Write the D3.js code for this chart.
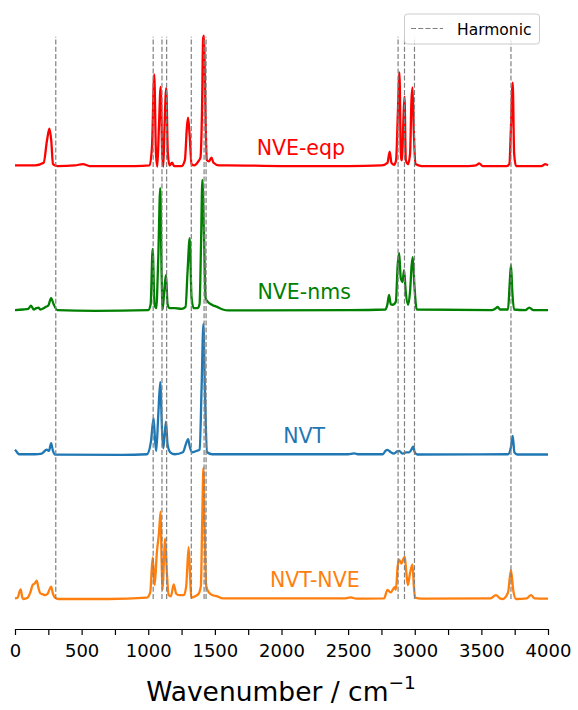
<!DOCTYPE html>
<html>
<head>
<meta charset="utf-8">
<script src="https://cdn.jsdelivr.net/npm/d3@7"></script>
<style>
  body { margin: 0; background: #fff; }
  svg { display: block; font-family: "DejaVu Sans", sans-serif; }
</style>
</head>
<body>
<div id="chart"></div>
<script>
// Spectra: [wavenumber, normalised intensity]
const nveEqp = [
  [0,0.01],[150,0.01],[215,0.03],[240,0.2],[258,0.29],[272,0.2],[285,0.02],[320,0.005],[450,0.01],[510,0.02],[560,0.005],
  [900,0.005],[1010,0.01],[1028,0.15],[1045,0.705],[1058,0.1],[1068,0.0],[1080,0.3],[1093,0.61],[1105,0.1],[1113,0.0],
  [1122,0.3],[1135,0.6],[1147,0.1],[1160,0.01],[1178,0.03],[1195,0.005],[1250,0.005],[1275,0.05],[1290,0.3],[1299,0.374],
  [1310,0.25],[1325,0.02],[1345,0.01],[1375,0.04],[1392,0.07],[1403,0.4],[1412,0.98],[1419,1.0],[1426,0.6],[1440,0.05],
  [1455,0.04],[1474,0.07],[1490,0.03],[1530,0.01],[1600,0.01],[2000,0.005],[2500,0.005],[2750,0.01],[2795,0.03],
  [2812,0.115],[2825,0.03],[2845,0.015],[2860,0.05],[2873,0.4],[2885,0.72],[2897,0.05],[2905,0.05],[2913,0.3],
  [2923,0.534],[2933,0.05],[2950,0.02],[2965,0.1],[2975,0.5],[2983,0.606],[2992,0.3],[3005,0.02],[3050,0.005],
  [3400,0.005],[3460,0.01],[3484,0.025],[3510,0.005],[3690,0.005],[3710,0.02],[3722,0.3],[3735,0.641],[3746,0.1],
  [3760,0.005],[3950,0.005],[3980,0.02],[4000,0.01]
];
const nveNms = [
  [0,0.005],[60,0.01],[100,0.015],[120,0.04],[140,0.01],[160,0.02],[175,0.025],[190,0.01],[215,0.02],[231,0.03],
  [250,0.04],[271,0.097],[290,0.05],[318,0.005],[600,0.0],[1000,0.005],[1018,0.05],[1033,0.473],[1047,0.05],[1060,0.02],
  [1075,0.4],[1090,0.937],[1100,0.3],[1108,0.01],[1120,0.15],[1133,0.275],[1145,0.05],[1160,0.02],[1200,0.02],
  [1250,0.015],[1280,0.03],[1295,0.3],[1311,0.555],[1325,0.1],[1341,0.02],[1370,0.02],[1385,0.05],[1396,0.5],
  [1406,1.0],[1418,0.6],[1430,0.1],[1450,0.065],[1480,0.045],[1517,0.03],[1560,0.01],[1600,0.003],[2500,0.005],
  [2780,0.01],[2795,0.05],[2807,0.122],[2820,0.05],[2835,0.046],[2858,0.07],[2872,0.35],[2883,0.44],[2895,0.25],
  [2908,0.22],[2920,0.31],[2932,0.15],[2950,0.045],[2965,0.15],[2977,0.35],[2985,0.41],[2997,0.2],[3015,0.01],
  [3580,0.005],[3610,0.02],[3622,0.03],[3640,0.01],[3700,0.01],[3712,0.2],[3722,0.35],[3732,0.15],[3745,0.01],
  [3830,0.005],[3860,0.025],[3890,0.005],[4000,0.005]
];
const nvt = [
  [0,0.04],[15,0.02],[30,0.005],[150,0.005],[200,0.01],[238,0.04],[255,0.03],[271,0.09],[285,0.03],[301,0.002],
  [800,0.0],[990,0.005],[1020,0.1],[1040,0.28],[1052,0.1],[1060,0.03],[1075,0.3],[1090,0.555],[1103,0.2],[1113,0.05],
  [1123,0.15],[1133,0.254],[1145,0.08],[1165,0.02],[1200,0.005],[1260,0.02],[1285,0.09],[1299,0.12],[1312,0.06],
  [1329,0.02],[1360,0.03],[1386,0.04],[1400,0.5],[1414,1.0],[1425,0.5],[1442,0.02],[1480,0.005],[2500,0.005],
  [2545,0.012],[2580,0.005],[2760,0.005],[2780,0.03],[2795,0.038],[2820,0.02],[2845,0.01],[2865,0.025],[2883,0.03],
  [2908,0.01],[2935,0.02],[2958,0.02],[2975,0.04],[2988,0.063],[3000,0.02],[3020,0.003],[3700,0.005],[3720,0.05],
  [3735,0.145],[3748,0.02],[3770,0.003],[4000,0.003]
];
const nvtNve = [
  [0,0.005],[20,0.01],[35,0.06],[43,0.074],[55,0.01],[63,0.0],[95,0.01],[115,0.05],[133,0.107],[150,0.12],[163,0.14],
  [175,0.09],[188,0.046],[210,0.035],[226,0.03],[245,0.04],[262,0.08],[271,0.094],[285,0.04],[300,0.01],[326,0.0],
  [700,0.0],[990,0.01],[1015,0.05],[1033,0.318],[1048,0.107],[1065,0.36],[1080,0.5],[1093,0.667],[1100,0.3],
  [1108,0.07],[1118,0.3],[1126,0.463],[1140,0.2],[1153,0.03],[1170,0.02],[1191,0.112],[1210,0.04],[1230,0.03],
  [1268,0.03],[1285,0.1],[1303,0.395],[1315,0.15],[1323,0.01],[1350,0.02],[1378,0.04],[1395,0.1],[1405,0.6],
  [1414,1.0],[1422,0.6],[1435,0.1],[1455,0.05],[1480,0.03],[1517,0.02],[1560,0.005],[2480,0.005],[2519,0.012],
  [2560,0.003],[2770,0.005],[2795,0.07],[2820,0.05],[2850,0.09],[2858,0.07],[2872,0.25],[2883,0.3],[2900,0.27],
  [2912,0.3],[2925,0.323],[2937,0.2],[2948,0.107],[2965,0.2],[2983,0.265],[2993,0.1],[3003,0.01],[3050,0.003],
  [3570,0.005],[3609,0.03],[3640,0.005],[3660,0.0],[3700,0.05],[3722,0.22],[3740,0.06],[3760,0.0],[3840,0.005],
  [3872,0.03],[3900,0.005],[4000,0.003]
];

const seriesNames = ["NVE-eqp", "NVE-nms", "NVT", "NVT-NVE"];
const seriesData = [nveEqp, nveNms, nvt, nvtNve];
const seriesOffsets = [3.3, 2.2, 1.1, 0];
const labelX = [2145, 2170, 2170, 2250];

// harmonic frequencies (dashed lines)
const harmonic = [306, 1037, 1103, 1138, 1323, 1419, 1434, 2875, 2923, 2998, 3722];
const xTicks = d3.range(0, 4001, 250);

const colors = ["#ff0000", "#008000", "#1f77b4", "#ff7f0e"];

const width = 578, height = 710;

const svg = d3.select("#chart")
  .append("svg")
  .attr("width", width)
  .attr("height", height);

const x = d3.scaleLinear().domain([0, 4000]).range([15, 548]);
const y = d3.scaleLinear().domain([0, 4.3]).range([599, 35.7]);

const line = d3.line()
  .x(d => x(d[0]))
  .curve(d3.curveMonotoneX);

seriesData.forEach((data, i) => {
  svg.append("path")
    .datum(data)
    .attr("fill", "none")
    .attr("stroke", colors[i])
    .attr("stroke-width", 2.3)
    .attr("stroke-linejoin", "round")
    .attr("d", line.y(d => y(d[1] + seriesOffsets[i])));

  svg.append("text")
    .attr("x", x(labelX[i]))
    .attr("y", y(seriesOffsets[i]) - 12)
    .attr("text-anchor", "middle")
    .attr("font-size", "20.5px")
    .attr("fill", colors[i])
    .text(seriesNames[i]);
});

svg.selectAll("line.harm")
  .data(harmonic)
  .join("line")
  .attr("class", "harm")
  .attr("x1", d => x(d)).attr("x2", d => x(d))
  .attr("y1", y(0)).attr("y2", y(4.3) + 1)
  .attr("stroke", "#808080")
  .attr("stroke-width", 1.2)
  .attr("stroke-dasharray", "5,2.2");

// x axis
const axis = svg.append("g")
  .attr("transform", "translate(0,629)")
  .call(d3.axisBottom(x)
    .tickValues(xTicks)
    .tickSize(6)
    .tickSizeOuter(0)
    .tickPadding(9)
    .tickFormat(d => d % 500 === 0 ? d : ""));
axis.select(".domain").attr("stroke", "#000").attr("stroke-width", 1.2);
axis.selectAll(".tick line").attr("stroke", "#000").attr("stroke-width", 1.2);
axis.selectAll(".tick text")
  .attr("font-family", "DejaVu Sans, sans-serif")
  .attr("font-size", "18px")
  .attr("fill", "#000");

const xLabel = svg.append("text")
  .attr("x", 281)
  .attr("y", 701)
  .attr("text-anchor", "middle")
  .attr("font-size", "26.5px")
  .attr("fill", "#000");
xLabel.append("tspan").text("Wavenumber / cm");
xLabel.append("tspan").attr("dy", -12).attr("font-size", "18.5px").text("\u22121");

// legend
const legend = svg.append("g");
legend.append("rect")
  .attr("x", 404.5).attr("y", 14)
  .attr("width", 135).attr("height", 30)
  .attr("rx", 3)
  .attr("fill", "#fff")
  .attr("fill-opacity", 0.8)
  .attr("stroke", "#cccccc");
legend.append("line")
  .attr("x1", 411).attr("x2", 443)
  .attr("y1", 28.5).attr("y2", 28.5)
  .attr("stroke", "#808080")
  .attr("stroke-width", 1.2)
  .attr("stroke-dasharray", "5,2.2");
legend.append("text")
  .attr("x", 457).attr("y", 35)
  .attr("font-size", "15.5px")
  .attr("fill", "#000")
  .text("Harmonic");
</script>
</body>
</html>
